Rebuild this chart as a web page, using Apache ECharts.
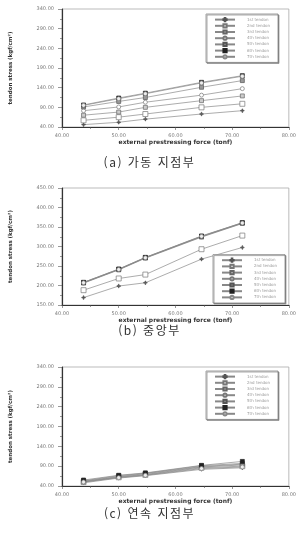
<!DOCTYPE html>
<html lang="ko">
  <head>
    <meta charset="UTF-8" />
    <title>tendon stress</title>
    <script src="https://cdn.jsdelivr.net/npm/echarts@6/dist/echarts.min.js"></script>
    <style>
      html, body { margin: 0; padding: 0; background: #fff; }
      #wrap { position: relative; width: 299px; height: 536px; }
      #chart { width: 299px; height: 536px; }
      .cap {
        position: absolute; left: 0; width: 299px; text-align: center;
        font-family: "Noto Sans CJK KR", sans-serif; font-size: 12px;
        letter-spacing: 1.5px; color: #333; line-height: 14px;
      }
    </style>
  </head>
  <body>
    <div id="wrap">
      <div id="chart"></div>
    </div>
    <script>
      // prestressing force (tonf) at the measured points
      const forces = [43.8, 50, 54.7, 64.6, 71.8];
      const tendons = ["1st tendon", "2nd tendon", "3rd tendon", "4th tendon", "5th tendon", "6th tendon", "7th tendon"];
      const captions = ["(a) 가동 지점부", "(b) 중앙부", "(c) 연속 지점부"];

      // (a) 가동 지점부
      const a1 = [46, 52, 60, 73, 81.5];
      const a2 = [57, 65, 73, 90, 99];
      const a3 = [70, 78, 90, 107, 119];
      const a4 = [81.5, 91, 103, 121, 137.5];
      const a5 = [91, 105, 115, 141, 158];
      const a6 = [96, 113.7, 126, 153.6, 170.5];
      const a7 = [95, 112, 124.5, 152, 169];

      // (b) 중앙부
      const b1 = [169, 198.6, 207, 267.6, 297.5];
      const b2 = [188, 218, 228, 293, 328];
      const b3 = [206, 240, 270, 324, 359];
      const b4 = [207, 241, 271, 325, 360];
      const b5 = [208, 242, 272, 326, 361];
      const b6 = [208, 242, 272, 327, 361];
      const b7 = [207, 241, 271, 326, 360];

      // (c) 연속 지점부
      const c1 = [48, 60, 66, 82, 86];
      const c2 = [50, 62, 68, 86, 90];
      const c3 = [51, 63, 69, 88, 93];
      const c4 = [52, 64, 71, 89, 95];
      const c5 = [53, 66, 72, 91, 97];
      const c6 = [55, 67, 73, 92, 102];
      const c7 = [50, 61, 67, 84, 88];

      const panels = [
        { series: [a1, a2, a3, a4, a5, a6, a7], min: 40, max: 340, interval: 50, top: 9, height: 118, legendPos: { top: 14, right: 21 } },
        { series: [b1, b2, b3, b4, b5, b6, b7], min: 150, max: 450, interval: 50, top: 188, height: 117, legendPos: { bottom: 233, right: 14 } },
        { series: [c1, c2, c3, c4, c5, c6, c7], min: 40, max: 340, interval: 50, top: 367, height: 119, legendPos: { top: 371, right: 21 } }
      ];
      const captionY = [162, 330, 513];

      const plus = "path://M4,0H6V4H10V6H6V10H4V6H0V4H4Z";
      const marks = [
        { symbol: plus, size: 3.5, color: "#555", fill: "#555" },
        { symbol: "rect", size: 5, color: "#777", fill: "#fff" },
        { symbol: "rect", size: 4, color: "#666", fill: "#ccc" },
        { symbol: "circle", size: 4, color: "#777", fill: "#fff" },
        { symbol: "rect", size: 4, color: "#555", fill: "#999" },
        { symbol: "rect", size: 4, color: "#222", fill: "#222" },
        { symbol: "circle", size: 4, color: "#888", fill: "#eee" }
      ];

      const axisText = { color: "#777", fontSize: 5, fontFamily: "DejaVu Sans" };

      let grid = [], xAxis = [], yAxis = [], series = [], legend = [];

      panels.forEach(function (p, k) {
        grid.push({
          left: 56, width: 233, top: p.top, height: p.height,
          show: true, borderColor: "#aaa", borderWidth: 0.8
        });
        xAxis.push({
          type: "value", gridIndex: k, min: 40, max: 80, interval: 10,
          name: "external prestressing force (tonf)",
          nameLocation: "middle", nameGap: 12,
          nameTextStyle: { color: "#333", fontSize: 6, fontWeight: "bold", fontFamily: "DejaVu Sans" },
          axisLine: { lineStyle: { color: "#333", width: 1.2 } },
          axisTick: { length: 3, lineStyle: { color: "#555", width: 0.6 } },
          minorTick: { show: true, splitNumber: 2, length: 2, lineStyle: { color: "#555", width: 0.6 } },
          axisLabel: Object.assign({ margin: 6, formatter: function (v) { return v.toFixed(2); } }, axisText),
          splitLine: { show: false }
        });
        yAxis.push({
          type: "value", gridIndex: k, min: p.min, max: p.max, interval: p.interval,
          name: "tendon stress (kgf/cm²)",
          nameLocation: "middle", nameGap: 48, nameRotate: 90,
          nameTextStyle: { color: "#333", fontSize: 5.5, fontWeight: "bold", fontFamily: "DejaVu Sans" },
          axisLine: { lineStyle: { color: "#333", width: 1.2 } },
          axisTick: { length: 4, lineStyle: { color: "#555", width: 0.6 } },
          minorTick: { show: true, splitNumber: 2, length: 2, lineStyle: { color: "#555", width: 0.6 } },
          axisLabel: Object.assign({ margin: 8, formatter: function (v) { return v.toFixed(2); } }, axisText),
          splitLine: { show: false }
        });
        p.series.forEach(function (vals, i) {
          let m = marks[i];
          series.push({
            name: tendons[i], type: "line", xAxisIndex: k, yAxisIndex: k,
            data: forces.map(function (f, j) { return [f, vals[j]]; }),
            symbol: m.symbol, symbolSize: m.size,
            lineStyle: { color: "#888", width: 0.7 },
            itemStyle: { color: m.fill, borderColor: m.color, borderWidth: 0.7 },
            animation: false
          });
        });
        legend.push(Object.assign({
          data: tendons, orient: "vertical",
          itemWidth: 20, itemHeight: 4, itemGap: 1,
          padding: [3, 8, 3, 8],
          borderColor: "#777", borderWidth: 0.7, backgroundColor: "#fff",
          shadowColor: "#888", shadowBlur: 0, shadowOffsetX: 1, shadowOffsetY: 1,
          textStyle: { color: "#999", fontSize: 4, lineHeight: 4.5, fontFamily: "DejaVu Sans", padding: [0, 0, 0, 7] },
          selectedMode: false
        }, p.legendPos));
      });

      let chart = echarts.init(document.getElementById("chart"), null, { renderer: "canvas" });
      chart.setOption({
        animation: false,
        backgroundColor: "#fff",
        grid: grid, xAxis: xAxis, yAxis: yAxis,
        legend: legend, series: series
      });

      let wrap = document.getElementById("wrap");
      captions.forEach(function (t, k) {
        let d = document.createElement("div");
        d.className = "cap";
        d.style.top = (captionY[k] - 7) + "px";
        d.textContent = t;
        wrap.appendChild(d);
      });
    </script>
  </body>
</html>
